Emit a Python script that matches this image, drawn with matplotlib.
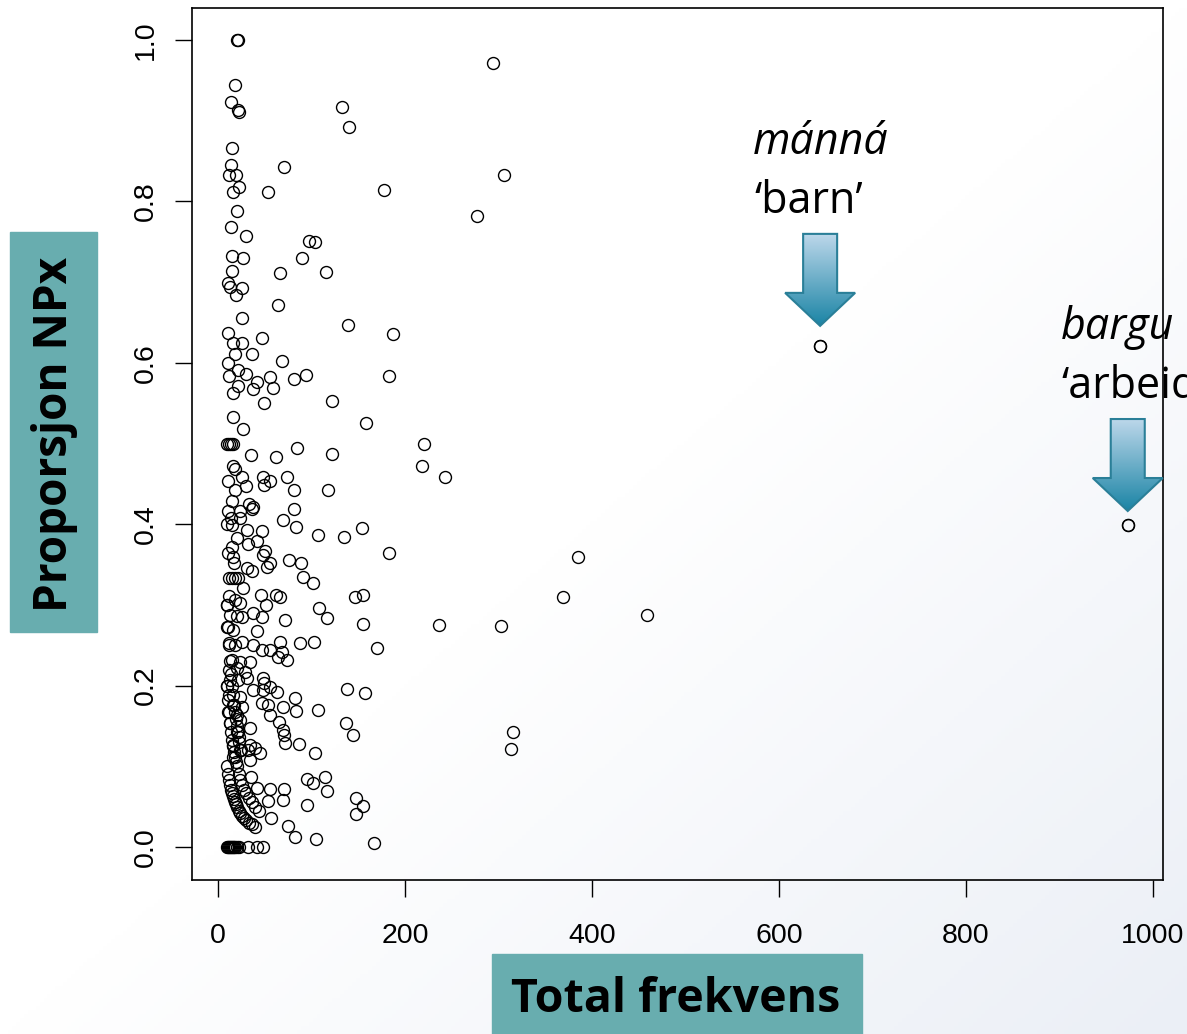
import numpy as np
import matplotlib.pyplot as plt
from matplotlib.patches import Polygon, Rectangle
from matplotlib.colors import LinearSegmentedColormap

# Total frekvens (x) og proporsjon NPx (y), lest av figuren, i grupper på 10
freq = [
    20, 21, 18, 14, 23, 21, 15, 14, 12, 19,
    22, 16, 20, 14, 30, 15, 27, 15, 11, 13,
    26, 19, 26, 11, 16, 26, 47, 18, 36, 68,
    11, 21, 12, 30, 42, 56, 81, 94, 21, 37,
    59, 16, 49, 122, 16, 27, 158, 10, 12, 14,
    16, 35, 62, 85, 122, 16, 18, 26, 11, 48,
    56, 49, 30, 74, 18, 81, 118, 15, 33, 37,
    11, 24, 36, 81, 14, 24, 70, 83, 107, 135,
    154, 10, 15, 31, 47, 20, 32, 42, 15, 11,
    50, 16, 48, 17, 56, 76, 89, 31, 52, 36,
    12, 15, 18, 21, 91, 102, 183, 27, 12, 46,
    62, 66, 147, 155, 385, 369, 459, 303, 236, 243,
    220, 218, 315, 313, 294, 306, 277, 71, 54, 133,
    140, 178, 97, 104, 90, 66, 116, 64, 139, 187,
    183, 644, 973, 18, 24, 10, 51, 108, 117, 155,
    170, 13, 20, 26, 37, 47, 72, 10, 16, 42,
    12, 18, 26, 37, 47, 56, 66, 68, 64, 74,
    88, 103, 15, 24, 34, 12, 20, 29, 13, 21,
    31, 48, 49, 56, 63, 48, 37, 10, 12, 24,
    16, 26, 47, 54, 70, 82, 83, 107, 11, 20,
    24, 56, 65, 70, 71, 138, 157, 137, 144, 13,
    20, 34, 34, 16, 24, 32, 40, 45, 34, 72,
    87, 104, 16, 35, 42, 56, 71, 54, 70, 95,
    102, 114, 117, 95, 57, 75, 82, 105, 148, 155,
    148, 167,
]
prop = [
    1.0, 1.0, 0.944, 0.923, 0.911, 0.913, 0.866, 0.845, 0.833, 0.833,
    0.818, 0.812, 0.788, 0.768, 0.757, 0.732, 0.730, 0.714, 0.699, 0.694,
    0.693, 0.684, 0.656, 0.637, 0.625, 0.625, 0.631, 0.611, 0.611, 0.602,
    0.600, 0.591, 0.584, 0.586, 0.576, 0.582, 0.580, 0.585, 0.571, 0.567,
    0.569, 0.563, 0.550, 0.553, 0.533, 0.518, 0.525, 0.5, 0.5, 0.5,
    0.5, 0.486, 0.483, 0.494, 0.487, 0.472, 0.468, 0.458, 0.453, 0.458,
    0.453, 0.449, 0.447, 0.458, 0.443, 0.443, 0.443, 0.429, 0.425, 0.421,
    0.416, 0.416, 0.419, 0.419, 0.408, 0.408, 0.405, 0.397, 0.387, 0.384,
    0.395, 0.400, 0.399, 0.393, 0.392, 0.383, 0.375, 0.379, 0.372, 0.364,
    0.367, 0.359, 0.362, 0.352, 0.352, 0.356, 0.352, 0.346, 0.347, 0.342,
    0.333, 0.333, 0.333, 0.333, 0.334, 0.327, 0.364, 0.321, 0.311, 0.312,
    0.312, 0.310, 0.310, 0.312, 0.359, 0.310, 0.287, 0.274, 0.275, 0.458,
    0.499, 0.472, 0.143, 0.121, 0.972, 0.833, 0.782, 0.843, 0.812, 0.917,
    0.892, 0.814, 0.751, 0.750, 0.730, 0.711, 0.712, 0.672, 0.647, 0.636,
    0.584, 0.621, 0.399, 0.306, 0.302, 0.300, 0.300, 0.296, 0.284, 0.276,
    0.247, 0.287, 0.286, 0.285, 0.290, 0.285, 0.281, 0.273, 0.269, 0.268,
    0.253, 0.250, 0.254, 0.250, 0.244, 0.244, 0.254, 0.242, 0.235, 0.232,
    0.253, 0.254, 0.232, 0.229, 0.229, 0.219, 0.222, 0.217, 0.207, 0.207,
    0.209, 0.209, 0.203, 0.198, 0.192, 0.195, 0.195, 0.200, 0.188, 0.186,
    0.176, 0.173, 0.178, 0.176, 0.173, 0.185, 0.169, 0.170, 0.167, 0.164,
    0.157, 0.164, 0.155, 0.145, 0.139, 0.196, 0.191, 0.154, 0.139, 0.154,
    0.143, 0.147, 0.126, 0.126, 0.120, 0.120, 0.123, 0.116, 0.108, 0.129,
    0.128, 0.116, 0.112, 0.087, 0.073, 0.072, 0.072, 0.057, 0.058, 0.084,
    0.079, 0.087, 0.069, 0.052, 0.036, 0.026, 0.012, 0.010, 0.061, 0.051,
    0.041, 0.005,
]

# tett klynge nede til venstre (lave frekvenser)
dense_freq = [10, 11, 12, 13, 14, 15, 16, 17, 18, 19, 20, 22, 24, 26, 28, 30, 33, 36, 40,
              20, 22, 24, 26, 28, 30, 33, 36, 40, 44,
              10, 10, 11, 11, 12, 12, 13, 13, 14, 14, 15, 15, 16, 16, 17, 17,
              18, 18, 19, 19, 20, 21, 22, 23, 25]
dense_prop = [0.100, 0.091, 0.083, 0.077, 0.071, 0.067, 0.063, 0.059, 0.056, 0.053,
              0.050, 0.045, 0.042, 0.038, 0.036, 0.033, 0.030, 0.028, 0.025,
              0.100, 0.091, 0.083, 0.077, 0.071, 0.067, 0.061, 0.056, 0.050, 0.045,
              0.300, 0.200, 0.273, 0.182, 0.250, 0.167, 0.231, 0.154, 0.214, 0.143,
              0.200, 0.133, 0.188, 0.125, 0.176, 0.118, 0.167, 0.111, 0.158, 0.105,
              0.150, 0.143, 0.136, 0.130, 0.120]

# lemma med proporsjon 0
zero_freq = [10, 11, 12, 13, 14, 15, 16, 17, 18, 20, 22, 32, 42, 48]
zero_prop = [0.0] * len(zero_freq)

# uthevede ord
notes_word = ['mánná', 'bargu']
notes_gloss = ['‘barn’', '‘arbeid’']
notes_freq = [644, 973]
notes_prop = [0.621, 0.399]

W, H = 1187, 1034
fig = plt.figure(figsize=(W / 100, H / 100), dpi=100)

# bakgrunn med svak gradient (lysbildet)
bg = fig.add_axes([0, 0, 1, 1], zorder=-2)
u, v = np.meshgrid(np.linspace(0, 1, 300), np.linspace(0, 1, 260))
s = np.clip(((u + v) / 2 - 0.5) / 0.5, 0, 1)
bg_cmap = LinearSegmentedColormap.from_list('bg', ['#ffffff', '#ebeff6'])
bg.imshow(s, cmap=bg_cmap, aspect='auto', extent=[0, 1, 0, 1], origin='upper')
bg.axis('off')

ax = fig.add_axes([192 / W, 1 - 880 / H, (1163 - 192) / W, (880 - 8) / H])
ax.set_facecolor('none')
ax.plot(freq, prop, 'o', mfc='none', mec='black', ms=8.6, mew=1.0, ls='none')
ax.plot(dense_freq, dense_prop, 'o', mfc='none', mec='black', ms=8.6, mew=1.0, ls='none')
ax.plot(zero_freq, zero_prop, 'o', mfc='none', mec='black', ms=8.6, mew=1.0, ls='none')
ax.plot(notes_freq, notes_prop, 'o', mfc='none', mec='black', ms=8.6, mew=1.0, ls='none')

ax.set_xlim(-27.8, 1010.7)
ax.set_ylim(-0.0409, 1.0397)
ax.set_xticks([0, 200, 400, 600, 800, 1000])
ax.set_yticks([0.0, 0.2, 0.4, 0.6, 0.8, 1.0])
ax.set_yticklabels(['0.0', '0.2', '0.4', '0.6', '0.8', '1.0'])
for sp in ax.spines.values():
    sp.set_linewidth(1.2)
ax.tick_params(length=12, width=1.0, direction='out', labelsize=20.5, pad=19)
ax.tick_params(axis='y', labelrotation=90, pad=12)
for lab in ax.get_yticklabels():
    lab.set_va('center')
for lab in ax.get_xticklabels() + ax.get_yticklabels():
    lab.set_family('Liberation Sans')

# overlegg i pikselkoordinater for etiketter og piler
ov = fig.add_axes([0, 0, 1, 1], zorder=5)
ov.set_xlim(0, W)
ov.set_ylim(H, 0)
ov.axis('off')
ov.patch.set_alpha(0)

teal = '#68adaf'
ov.add_patch(Rectangle((10, 232), 87, 400, color=teal))
ov.text(55, 434, 'Proporsjon NPx', rotation=90, ha='center', va='center',
        fontsize=33, fontweight='bold', family='Open Sans', color='black')
ov.add_patch(Rectangle((492, 954), 370, 90, color=teal, clip_on=False))
ov.text(676, 1000, 'Total frekvens', ha='center', va='center',
        fontsize=33.5, fontweight='bold', family='Open Sans', color='black')

arrow_cmap = LinearSegmentedColormap.from_list('arr', ['#bcd7ea', '#1a84a5'])
grad = np.linspace(0, 1, 200).reshape(-1, 1)
for word, gloss, fx, fy, gap in zip(notes_word, notes_gloss, notes_freq, notes_prop, [20, 14]):
    px, py = ax.transData.transform((fx, fy))
    py = H - py
    tip = py - gap
    top = tip - 92
    shaft_bot = tip - 33
    pts = [(px - 17, top), (px + 17, top), (px + 17, shaft_bot), (px + 35, shaft_bot),
           (px, tip), (px - 35, shaft_bot), (px - 17, shaft_bot)]
    poly = Polygon(pts, closed=True, fc='none', ec='#2a7f98', lw=1.5, zorder=3)
    ov.add_patch(poly)
    im = ov.imshow(grad, cmap=arrow_cmap, aspect='auto',
                   extent=[px - 36, px + 36, tip, top], zorder=2)
    im.set_clip_path(poly)
    ov.text(px - 67, top - 80, word, style='italic', fontsize=31,
            family='Open Sans', ha='left', va='baseline')
    ov.text(px - 66, top - 21, gloss, fontsize=31,
            family='Open Sans', ha='left', va='baseline')

ov.set_xlim(0, W)
ov.set_ylim(H, 0)

fig.savefig('out.png', dpi=100)
